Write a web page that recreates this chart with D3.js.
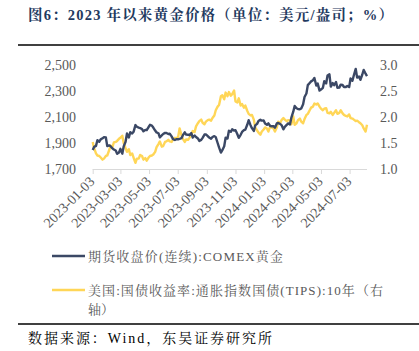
<!DOCTYPE html>
<html>
<head>
<meta charset="utf-8">
<script src="https://cdn.jsdelivr.net/npm/d3@7"></script>
<style>
  body { margin: 0; background: #fff; }
  svg { display: block; }
</style>
</head>
<body>
<div id="chart"></div>
<script>
// 2023年以来黄金价格 vs 10年期TIPS收益率
// values, twice a week (Tue / Fri)

const titleText = "图6：2023 年以来黄金价格（单位：美元/盎司；%）";
const sourceText = "数据来源：Wind，东吴证券研究所";
const legendGold = "期货收盘价(连续):COMEX黄金";
const legendTips = ["美国:国债收益率:通胀指数国债(TIPS):10年（右", "轴）"];

const tickLabels = ["2023-01-03", "2023-03-03", "2023-05-03", "2023-07-03", "2023-09-03",
  "2023-11-03", "2024-01-03", "2024-03-03", "2024-05-03", "2024-07-03"];
const leftTicks = [1700, 1900, 2100, 2300, 2500];
const rightTicks = [1.0, 1.5, 2.0, 2.5, 3.0];

// COMEX gold, USD/oz
const gold = [
  1846, 1870, 1878, 1921, 1910, 1928, 1936, 1945, 1942, 1876,
  1882, 1875, 1859, 1850, 1842, 1817, 1827, 1855, 1818, 1874,
  1910, 1973, 1943, 1983, 1973, 1986, 2038, 2025, 2018, 2015,
  2007, 1990, 2001, 1999, 2023, 2040, 2034, 2019, 1996, 1981,
  1975, 1944, 1958, 1969, 1978, 1977, 1969, 1971, 1951, 1930,
  1923, 1929, 1929, 1932, 1937, 1960, 1982, 1965, 1964, 1960,
  1976, 1942, 1958, 1946, 1935, 1916, 1924, 1940, 1965, 1966,
  1953, 1942, 1933, 1946, 1953, 1945, 1900, 1866, 1826, 1845,
  1875, 1941, 1934, 1994, 1986, 2006, 1995, 1999, 1967, 1940,
  1963, 1985, 1999, 2003, 2040, 2075, 2037, 2014, 1993, 2035,
  2047, 2069, 2079, 2072, 2073, 2050, 2040, 2051, 2031, 2029,
  2030, 2018, 2050, 2054, 2047, 2038, 2005, 2024, 2039, 2051,
  2043, 2096, 2141, 2185, 2167, 2161, 2160, 2166, 2198, 2254,
  2281, 2345, 2362, 2374, 2383, 2400, 2342, 2357, 2303, 2311,
  2324, 2375, 2358, 2419, 2428, 2334, 2361, 2345, 2369, 2325,
  2326, 2349, 2346, 2331, 2331, 2339, 2330, 2397, 2379, 2421,
  2470, 2403, 2411, 2386, 2427, 2462, 2433, 2415
];

// US 10Y TIPS yield, %
const tips = [
  1.52, 1.40, 1.30, 1.26, 1.25, 1.22, 1.18, 1.20, 1.25, 1.26,
  1.36, 1.45, 1.42, 1.51, 1.52, 1.54, 1.58, 1.60, 1.64, 1.50,
  1.40, 1.33, 1.38, 1.27, 1.30, 1.22, 1.12, 1.20, 1.20, 1.27,
  1.25, 1.18, 1.21, 1.16, 1.22, 1.25, 1.26, 1.28, 1.33, 1.42,
  1.48, 1.53, 1.43, 1.44, 1.52, 1.53, 1.56, 1.53, 1.52, 1.57,
  1.60, 1.59, 1.62, 1.78, 1.65, 1.58, 1.52, 1.57, 1.56, 1.60,
  1.66, 1.73, 1.71, 1.82, 1.88, 1.92, 1.95, 1.89, 1.86, 1.91,
  1.94, 1.95, 1.93, 1.98, 2.03, 2.13, 2.20, 2.23, 2.40, 2.42,
  2.34, 2.47, 2.40, 2.48, 2.41, 2.44, 2.51, 2.30, 2.28, 2.36,
  2.22, 2.25, 2.18, 2.22, 2.12, 2.06, 2.03, 2.04, 1.95, 1.80,
  1.74, 1.70, 1.66, 1.72, 1.76, 1.80, 1.78, 1.72, 1.82, 1.80,
  1.78, 1.72, 1.80, 1.91, 1.88, 1.94, 1.98, 1.95, 1.92, 1.94,
  1.93, 1.86, 2.01, 1.85, 1.88, 1.94, 1.97, 1.91, 1.88, 1.96,
  2.04, 2.06, 2.13, 2.18, 2.20, 2.26, 2.24, 2.26, 2.20, 2.16,
  2.13, 2.16, 2.17, 2.08, 2.07, 2.10, 2.04, 2.08, 2.13, 2.06,
  2.08, 2.13, 2.07, 2.04, 2.02, 2.01, 2.05, 1.98, 1.97, 1.95,
  1.92, 1.93, 1.90, 1.88, 1.84, 1.78, 1.72, 1.85
];

const W = 419, H = 351;
const navy = "#3b4865", gold_c = "#ffd657";
const latin = "'Liberation Serif', 'Times New Roman', 'Noto Serif CJK SC', 'Noto Sans CJK SC', serif";

// Tue/Fri trading-day categories from 2023-01-03
const dates = d3.timeDay.range(new Date(2023, 0, 3), new Date(2024, 7, 10))
  .filter(d => d.getDay() === 2 || d.getDay() === 5)
  .slice(0, gold.length);

const svg = d3.select("#chart").append("svg")
  .attr("width", W).attr("height", H);

// title + rules
svg.append("text")
  .attr("x", 28).attr("y", 20)
  .attr("font-family", latin)
  .attr("font-weight", "bold")
  .attr("font-size", 14.5)
  .attr("fill", "#1f3a60")
  .attr("textLength", 365).attr("lengthAdjust", "spacing")
  .text(titleText);

svg.append("line").attr("x1", 18).attr("x2", W).attr("y1", 45).attr("y2", 45)
  .attr("stroke", "#000").attr("stroke-width", 1.5);
svg.append("line").attr("x1", 18).attr("x2", W).attr("y1", 324).attr("y2", 324)
  .attr("stroke", "#000").attr("stroke-width", 1.5);

svg.append("text")
  .attr("x", 28).attr("y", 343)
  .attr("font-family", latin)
  .attr("font-size", 14)
  .attr("fill", "#000")
  .attr("textLength", 244).attr("lengthAdjust", "spacing")
  .text(sourceText);

// scales
const parse = d3.timeParse("%Y-%m-%d");
const x = d3.scaleTime()
  .domain([parse("2023-01-03"), dates[dates.length - 1]])
  .range([92.7, 367]);
const yL = d3.scaleLinear().domain([1700, 2500]).range([169, 65]);
const yR = d3.scaleLinear().domain([1.0, 3.0]).range([169, 65]);

// axes
const xAxis = svg.append("g")
  .attr("transform", "translate(0,169)")
  .call(d3.axisBottom(x).tickValues(tickLabels.map(parse)).tickSize(5)
    .tickFormat(d3.timeFormat("%Y-%m-%d")));
xAxis.select(".domain").attr("stroke", "#d9d9d9").attr("d", "M92.7,0.5H367");
xAxis.selectAll(".tick line").attr("stroke", "#d9d9d9");
xAxis.selectAll(".tick text")
  .attr("font-family", latin)
  .attr("font-size", 14)
  .attr("fill", "#595959")
  .attr("text-anchor", "end")
  .attr("dy", null)
  .attr("transform", "translate(0,11) rotate(-45)")
  .attr("y", 0).attr("x", 0)
  .attr("dominant-baseline", "middle");

const left = svg.append("g")
  .attr("transform", "translate(92,0)")
  .call(d3.axisLeft(yL).tickValues(leftTicks).tickSize(0).tickPadding(16)
    .tickFormat(d3.format(",")));
left.select(".domain").remove();
left.selectAll("text").attr("font-family", latin).attr("font-size", 14).attr("fill", "#595959");

const right = svg.append("g")
  .attr("transform", "translate(367,0)")
  .call(d3.axisRight(yR).tickValues(rightTicks).tickSize(0).tickPadding(13)
    .tickFormat(d3.format(".1f")));
right.select(".domain").remove();
right.selectAll("text").attr("font-family", latin).attr("font-size", 14).attr("fill", "#595959");

// lines
const lineL = d3.line().x((d, i) => x(dates[i])).y(d => yL(d));
const lineR = d3.line().x((d, i) => x(dates[i])).y(d => yR(d));

svg.append("path").datum(tips)
  .attr("fill", "none").attr("stroke", gold_c).attr("stroke-width", 2.4)
  .attr("stroke-linejoin", "round").attr("d", lineR);
svg.append("path").datum(gold)
  .attr("fill", "none").attr("stroke", navy).attr("stroke-width", 2.4)
  .attr("stroke-linejoin", "round").attr("d", lineL);

// legend
const legend = svg.append("g");
const items = [
  { color: navy, lines: [legendGold], widths: [195], y: 256 },
  { color: gold_c, lines: legendTips, widths: [295, null], y: 290 }
];
items.forEach(it => {
  legend.append("line")
    .attr("x1", 52).attr("x2", 85).attr("y1", it.y).attr("y2", it.y)
    .attr("stroke", it.color).attr("stroke-width", 2.4);
  it.lines.forEach((t, k) => {
    const txt = legend.append("text")
      .attr("x", 88).attr("y", it.y + 4.5 + k * 19)
      .attr("font-family", latin)
      .attr("font-size", 13)
      .attr("fill", "#595959")
      .text(t);
    if (it.widths[k]) txt.attr("textLength", it.widths[k]).attr("lengthAdjust", "spacing");
  });
});
</script>
</body>
</html>
